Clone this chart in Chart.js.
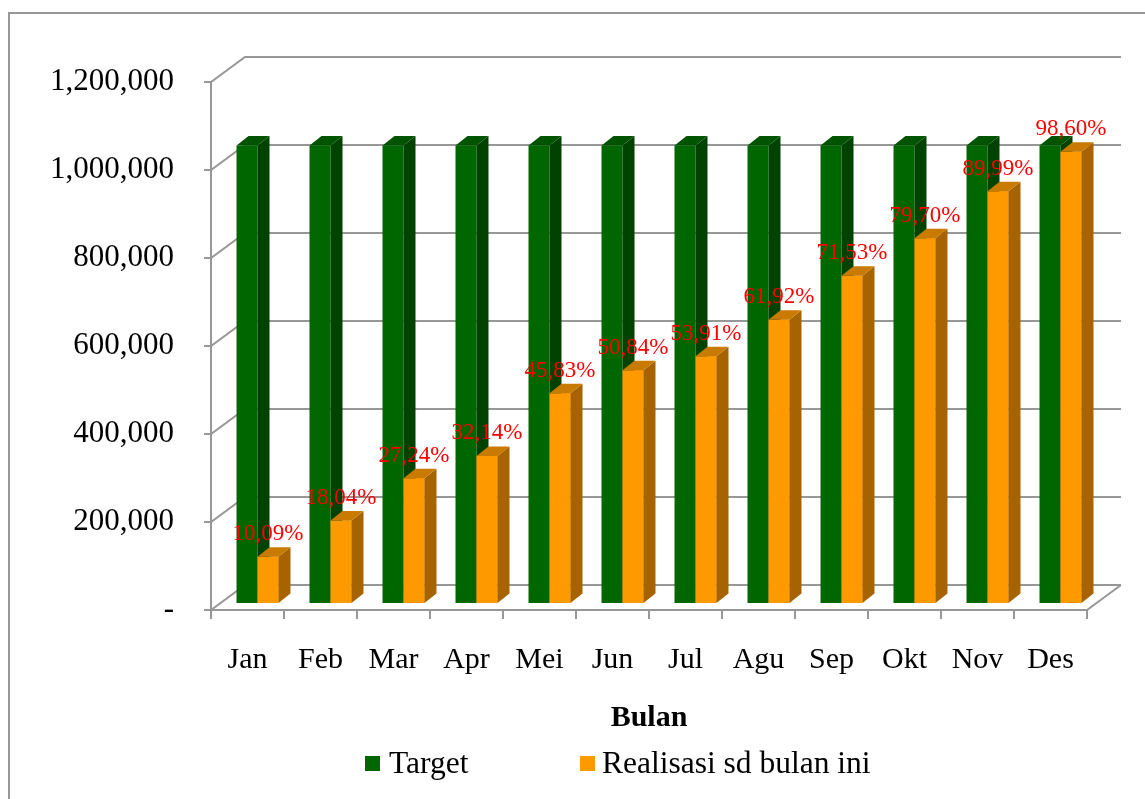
<!DOCTYPE html>
<html>
<head>
<meta charset="utf-8">
<script src="https://cdn.jsdelivr.net/npm/chart.js@4.4.1/dist/chart.umd.min.js"></script>
<style>
html, body { margin: 0; padding: 0; background: #fff; }
</style>
</head>
<body>
<canvas id="barChart" width="1145" height="799"></canvas>
<script>
// data
const months = ['Jan', 'Feb', 'Mar', 'Apr', 'Mei', 'Jun', 'Jul', 'Agu', 'Sep', 'Okt', 'Nov', 'Des'];
const target = [1040000, 1040000, 1040000, 1040000, 1040000, 1040000, 1040000, 1040000, 1040000, 1040000, 1040000, 1040000];
const realisasi = [104900, 187600, 283300, 334300, 476600, 528700, 560700, 644000, 743900, 828900, 935900, 1025400];
const persen = ['10,09%', '18,04%', '27,24%', '32,14%', '45,83%', '50,84%', '53,91%', '61,92%', '71,53%', '79,70%', '89,99%', '98,60%'];
const yTicks = ['-', '200,000', '400,000', '600,000', '800,000', '1,000,000', '1,200,000'];

const serif = '"Liberation Serif", "Times New Roman", serif';
const GRID = '#979797';
// 3d offsets relative to the bar front plane
const FRONT = { dx: -10, dy: 7 };
const BACK = { dx: 24, dy: -18 };
const DEPTH = { dx: 12, dy: 9.5 };
const faces = [
    { side: '#004300', top: '#005400' },
    { side: '#a66300', top: '#c97a00' }
];

function drawFaces(ctx, bar, f) {
    const { x, y, base, width } = bar.getProps(['x', 'y', 'base', 'width'], true);
    const l = x - width / 2, r = x + width / 2;
    ctx.fillStyle = f.side;
    ctx.beginPath();
    ctx.moveTo(r, y);
    ctx.lineTo(r + DEPTH.dx, y - DEPTH.dy);
    ctx.lineTo(r + DEPTH.dx, base - DEPTH.dy);
    ctx.lineTo(r, base);
    ctx.closePath();
    ctx.fill();
    ctx.fillStyle = f.top;
    ctx.beginPath();
    ctx.moveTo(l, y);
    ctx.lineTo(l + DEPTH.dx, y - DEPTH.dy);
    ctx.lineTo(r + DEPTH.dx, y - DEPTH.dy);
    ctx.lineTo(r, y);
    ctx.closePath();
    ctx.fill();
}

const box3d = {
    id: 'box3d',
    beforeDatasetsDraw(chart) {
        const { ctx, chartArea: a, scales: { y } } = chart;
        const y0 = y.getPixelForValue(0);
        const yTop = y.getPixelForValue(y.max);
        const w = (a.right - a.left) / months.length;
        ctx.save();
        ctx.strokeStyle = GRID;
        ctx.lineWidth = 2;
        // outer frame
        ctx.strokeRect(9, 13, 1400, 1000);
        ctx.beginPath();
        y.ticks.forEach(t => {
            const py = y.getPixelForValue(t.value);
            ctx.moveTo(a.left + FRONT.dx - 7, py + FRONT.dy);
            ctx.lineTo(a.left + FRONT.dx, py + FRONT.dy);
            ctx.lineTo(a.left + BACK.dx, py + BACK.dy);
            ctx.lineTo(a.right + BACK.dx, py + BACK.dy);
        });
        // front axis + floor
        ctx.moveTo(a.left + FRONT.dx, yTop + FRONT.dy);
        ctx.lineTo(a.left + FRONT.dx, y0 + FRONT.dy);
        ctx.lineTo(a.right + FRONT.dx, y0 + FRONT.dy);
        ctx.lineTo(a.right + BACK.dx, y0 + BACK.dy);
        for (let i = 0; i <= months.length; i++) {
            const px = a.left + FRONT.dx + i * w;
            ctx.moveTo(px, y0 + FRONT.dy);
            ctx.lineTo(px, y0 + FRONT.dy + 9);
        }
        ctx.stroke();
        ctx.restore();
    },
    afterDatasetsDraw(chart) {
        // chart.js draws the last dataset first, so rebuild the depth order here
        const { ctx } = chart;
        const green = chart.getDatasetMeta(0).data;
        const orange = chart.getDatasetMeta(1).data;
        ctx.save();
        green.forEach((bar, i) => {
            drawFaces(ctx, bar, faces[0]);
            orange[i].draw(ctx);
            drawFaces(ctx, orange[i], faces[1]);
        });
        ctx.restore();
    },
    afterDraw(chart) {
        const { ctx, chartArea: a } = chart;
        ctx.save();
        // percentage labels
        ctx.fillStyle = '#ff0000';
        ctx.font = '23px ' + serif;
        ctx.textAlign = 'center';
        ctx.textBaseline = 'alphabetic';
        chart.getDatasetMeta(1).data.forEach((bar, i) => {
            ctx.fillText(persen[i], bar.x, bar.y - 16.5);
        });
        // axis title
        ctx.fillStyle = '#000';
        ctx.font = 'bold 30px ' + serif;
        ctx.fillText('Bulan', (a.left + a.right) / 2 + FRONT.dx, 726);
        // legend
        ctx.font = '31.5px ' + serif;
        ctx.textAlign = 'left';
        const items = [{ box: 365, text: 389 }, { box: 580, text: 602 }];
        chart.data.datasets.forEach((ds, i) => {
            ctx.fillStyle = ds.backgroundColor;
            ctx.fillRect(items[i].box, 756, 15, 15);
            ctx.fillStyle = '#000';
            ctx.fillText(ds.label, items[i].text, 773);
        });
        ctx.restore();
    }
};

new Chart(document.getElementById('barChart'), {
    type: 'bar',
    data: {
        labels: months,
        datasets: [{
            label: 'Target',
            data: target,
            backgroundColor: '#006600',
            borderWidth: 0
        }, {
            label: 'Realisasi sd bulan ini',
            data: realisasi,
            backgroundColor: '#ff9900',
            borderWidth: 0
        }]
    },
    options: {
        responsive: false,
        animation: false,
        categoryPercentage: 0.575,
        barPercentage: 1,
        layout: { padding: { top: 75, right: 48, left: 0, bottom: 0 } },
        plugins: {
            legend: { display: false },
            tooltip: { enabled: false }
        },
        scales: {
            x: {
                grid: { display: false, drawTicks: false },
                border: { display: false },
                ticks: {
                    color: '#000',
                    font: { family: serif, size: 30 },
                    padding: 39,
                    labelOffset: FRONT.dx,
                    maxRotation: 0
                },
                afterFit: s => { s.height = 196; }
            },
            y: {
                min: 0,
                max: 1200000,
                grid: { display: false, drawTicks: false },
                border: { display: false },
                ticks: {
                    stepSize: 200000,
                    color: '#000',
                    font: { family: serif, size: 31 },
                    padding: 47,
                    labelOffset: FRONT.dy,
                    callback: (v, i) => yTicks[i]
                },
                afterFit: s => { s.width = 221; }
            }
        }
    },
    plugins: [box3d]
});
</script>
</body>
</html>
